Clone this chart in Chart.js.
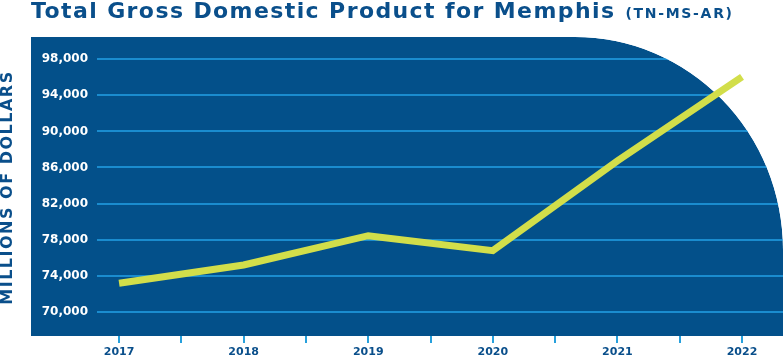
<!DOCTYPE html>
<html>
<head>
<meta charset="utf-8">
<script src="https://cdn.jsdelivr.net/npm/chart.js@4.4.0/dist/chart.umd.min.js"></script>
<style>
  html, body { margin: 0; padding: 0; background: #fff; }
  #wrap { position: relative; width: 783px; height: 358px; }
  h1 {
    position: absolute; left: 31px; top: 0; margin: 0;
    font: bold 22px/22px "DejaVu Sans", sans-serif;
    color: #0a4f8b; letter-spacing: 1.4px; white-space: nowrap;
  }
  h1 span { font-size: 14px; letter-spacing: 1.7px; margin-left: 10px; }
  canvas { position: absolute; left: 0; top: 0; }
</style>
</head>
<body>
<div id="wrap">
  <canvas id="gdpChart" width="783" height="358"></canvas>
  <h1>Total Gross Domestic Product for Memphis<span>(TN-MS-AR)</span></h1>
</div>
<script>
// données (millions de dollars)
const years = [2017, 2018, 2019, 2020, 2021, 2022];
const gdp = [73150, 75180, 78430, 76770, 86730, 96050];
const yTicks = [70000, 74000, 78000, 82000, 86000, 90000, 94000, 98000];
const yTitle = 'MILLIONS OF DOLLARS';

const navy = '#03508a';
const gridBlue = '#1a8ccf';
const lime = '#d2de4a';

// fond bleu avec le coin arrondi en haut à droite
const panelPlugin = {
  id: 'panel',
  beforeDraw(chart) {
    const { ctx, chartArea: a } = chart;
    const rx = 208, ry = 213;
    ctx.save();
    ctx.fillStyle = navy;
    ctx.beginPath();
    ctx.moveTo(a.left - 66, a.top);
    ctx.lineTo(a.right - rx, a.top);
    ctx.ellipse(a.right - rx, a.top + ry, rx, ry, 0, -Math.PI / 2, 0);
    ctx.lineTo(a.right, a.bottom);
    ctx.lineTo(a.left - 66, a.bottom);
    ctx.closePath();
    ctx.fill();
    ctx.restore();
  },
  beforeDatasetsDraw(chart) {
    // masque la grille hors de la courbe
    const { ctx, chartArea: a } = chart;
    const rx = 208, ry = 213;
    ctx.save();
    ctx.fillStyle = '#fff';
    ctx.beginPath();
    ctx.moveTo(a.right - rx, a.top - 2);
    ctx.lineTo(a.right + 2, a.top - 2);
    ctx.lineTo(a.right + 2, a.top + ry);
    ctx.ellipse(a.right - rx, a.top + ry, rx, ry, 0, 0, -Math.PI / 2, true);
    ctx.closePath();
    ctx.fill();
    ctx.restore();
  },
  afterDraw(chart) {
    const { ctx, chartArea: a } = chart;
    ctx.save();
    ctx.translate(8, (a.top + a.bottom) / 2 + 1);
    ctx.rotate(-Math.PI / 2);
    ctx.font = 'bold 16px "DejaVu Sans"';
    ctx.letterSpacing = '1.5px';
    ctx.fillStyle = '#0a4f8b';
    ctx.textAlign = 'center';
    ctx.textBaseline = 'middle';
    ctx.fillText(yTitle, 0, 0);
    ctx.restore();
  }
};

const ctx = document.getElementById('gdpChart').getContext('2d');

new Chart(ctx, {
  type: 'line',
  data: {
    datasets: [{
      data: years.map((y, i) => ({ x: y, y: gdp[i] })),
      borderColor: lime,
      borderWidth: 7,
      borderCapStyle: 'butt',
      borderJoinStyle: 'miter',
      pointRadius: 0,
      tension: 0,
      clip: false
    }]
  },
  options: {
    responsive: false,
    animation: false,
    layout: { padding: { top: 37, left: 0, right: 0, bottom: 0 } },
    plugins: { legend: { display: false }, tooltip: { enabled: false } },
    scales: {
      x: {
        type: 'linear',
        min: 2016.823,
        max: 2022.329,
        afterBuildTicks(scale) {
          const t = [];
          years.forEach((y, i) => {
            t.push({ value: y });
            if (i < years.length - 1) t.push({ value: y + 0.5 });
          });
          scale.ticks = t;
        },
        afterFit(scale) { scale.height = 22; },
        border: { display: false },
        grid: { drawOnChartArea: false, drawTicks: true, tickLength: 7, color: '#27a0dc', lineWidth: 2 },
        ticks: {
          autoSkip: false, maxRotation: 0, padding: 3,
          color: '#0a4f8b',
          font: { family: 'DejaVu Sans', weight: 'bold', size: 11 },
          callback: v => Number.isInteger(v) ? String(v) : ''
        }
      },
      y: {
        min: 67304,
        max: 100475,
        afterBuildTicks(scale) { scale.ticks = yTicks.map(v => ({ value: v })); },
        afterFit(scale) { scale.width = 97; },
        border: { display: false },
        grid: { color: gridBlue, lineWidth: 2, drawTicks: false },
        ticks: {
          padding: 9,
          color: '#ffffff',
          font: { family: 'DejaVu Sans', weight: 'bold', size: 12 },
          callback: v => v.toLocaleString('en-US')
        }
      }
    }
  },
  plugins: [panelPlugin]
});
</script>
</body>
</html>
